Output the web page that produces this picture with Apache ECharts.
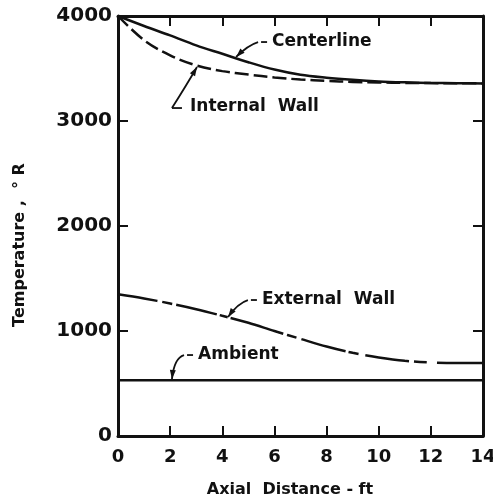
<!DOCTYPE html>
<html><head><meta charset="utf-8">
<script src="https://cdn.jsdelivr.net/npm/echarts@6/dist/echarts.min.js"></script>
<style>html,body{margin:0;padding:0;background:#fff}#c{width:493px;height:504px}</style>
</head><body><div id="c"></div>
<script>
// Data (axial distance ft, temperature °R)
var distance = [0, 1, 2, 3, 4, 5, 6, 7, 8, 9, 10, 11, 12, 13, 14];
var centerline = [4000, 3905, 3815, 3720, 3640, 3560, 3490, 3440, 3412, 3392, 3377, 3368, 3362, 3360, 3358];
var internalWall = [4000, 3770, 3625, 3530, 3475, 3442, 3415, 3395, 3382, 3372, 3367, 3363, 3361, 3360, 3358];
var externalWall = [1350, 1310, 1262, 1208, 1145, 1078, 1000, 925, 852, 792, 748, 716, 700, 695, 695];
var ambient = [530, 530, 530, 530, 530, 530, 530, 530, 530, 530, 530, 530, 530, 530, 530];
var xTicks = [0, 2, 4, 6, 8, 10, 12, 14];
var yTicks = [0, 1000, 2000, 3000, 4000];
var xTitle = 'Axial  Distance - ft';
var yTitle = 'Temperature ,  ° R';
// annotations: label, arrow tip (data), text anchor (data)
var notes = [
  {text: 'Centerline', tip: [4.53, 3610], at: [5.91, 3752]},
  {text: 'Internal  Wall', tip: [3.03, 3514], at: [2.76, 3133], corner: true},
  {text: 'External  Wall', tip: [4.22, 1133], at: [5.52, 1295]},
  {text: 'Ambient', tip: [2.07, 543], at: [3.07, 771]}
];

function pairs(ys){ return distance.map(function(x,i){return [x, ys[i]];}); }
var ink = '#111';
var font = 'DejaVu Sans';
var chart = echarts.init(document.getElementById('c'));
var lineBase = {type:'line', symbol:'none', smooth:0.35, xAxisIndex:0, yAxisIndex:0};
function axisCommon(pos){
  return {
    position:pos,
    axisLine:{show:true, onZero:false, lineStyle:{color:ink, width:3}},
    axisTick:{show:true, inside:true, length:10, lineStyle:{color:ink, width:2}},
    splitLine:{show:false}
  };
}
chart.setOption({
  animation:false,
  backgroundColor:'#fff',
  grid:{left:118, right:10, top:16, bottom:68, containLabel:false, outerBoundsMode:'none'},
  xAxis:[Object.assign(axisCommon('bottom'), {
    type:'value', min:0, max:14, interval:2,
    axisLabel:{color:ink, fontSize:18, fontFamily:font, fontWeight:'bold', margin:12,
      formatter:function(v){return xTicks.indexOf(v)>=0? String(v):'';}}
  }), Object.assign(axisCommon('top'), {
    type:'value', min:0, max:14, interval:2, axisLabel:{show:false}
  })],
  yAxis:[Object.assign(axisCommon('left'), {
    type:'value', min:0, max:4000, interval:1000,
    axisLabel:{color:ink, fontSize:20, fontFamily:font, fontWeight:'bold', margin:6,
      formatter:function(v){return yTicks.indexOf(v)>=0? String(v):'';}}
  }), Object.assign(axisCommon('right'), {
    type:'value', min:0, max:4000, interval:1000, axisLabel:{show:false}
  })],
  series:[
    Object.assign({}, lineBase, {name:'Centerline', data:pairs(centerline), lineStyle:{color:ink, width:2.5}}),
    Object.assign({}, lineBase, {name:'Internal Wall', data:pairs(internalWall), lineStyle:{color:ink, width:2.5, type:[14,5]}}),
    Object.assign({}, lineBase, {name:'External Wall', data:pairs(externalWall), lineStyle:{color:ink, width:2.5,
      type:[40,5,10,4,42,3,8,3,55,4,10,5,46,3,10,7,44,5,13,10,80]}}),
    Object.assign({}, lineBase, {name:'Ambient', data:pairs(ambient), smooth:false, lineStyle:{color:ink, width:2.5}})
  ]
});

function px(p){ return chart.convertToPixel({xAxisIndex:0, yAxisIndex:0}, p); }
var g = [];
g.push({type:'text', x:290, y:490, style:{text:xTitle, fill:ink, font:'bold 16px "DejaVu Sans"', textAlign:'center', textVerticalAlign:'middle'}});
g.push({type:'text', x:20, y:245, rotation:Math.PI/2, style:{text:yTitle, fill:ink, font:'bold 16px "DejaVu Sans"', textAlign:'center', textVerticalAlign:'middle'}});
notes.forEach(function(n){
  var tip = px(n.tip), at = px(n.at);
  g.push({type:'text', x:at[0], y:at[1], style:{text:n.text, fill:ink, font:'bold 17px "DejaVu Sans"', textVerticalAlign:'middle', textAlign:'left'}});
  var from, cp;
  if (n.corner) {
    from = [at[0]-18, at[1]+1];
    g.push({type:'polyline', shape:{points:[[at[0]-8, from[1]], from]}, style:{stroke:ink, lineWidth:1.8, fill:null}});
    cp = [from[0]+14, from[1]-22];
  } else {
    var d0 = [at[0]-5, at[1]], d1 = [at[0]-11, at[1]];
    g.push({type:'line', shape:{x1:d0[0], y1:d0[1], x2:d1[0], y2:d1[1]}, style:{stroke:ink, lineWidth:1.8}});
    from = [d1[0]-3, d1[1]];
    cp = [from[0]-10, from[1]+3];
  }
  g.push({type:'bezierCurve', shape:{x1:from[0], y1:from[1], x2:tip[0], y2:tip[1], cpx1:cp[0], cpy1:cp[1]}, style:{stroke:ink, lineWidth:1.8, fill:null}});
  var dx = tip[0]-cp[0], dy = tip[1]-cp[1], L = Math.sqrt(dx*dx+dy*dy); dx/=L; dy/=L;
  var len = 9, w = 3;
  var bx = tip[0]-dx*len, by = tip[1]-dy*len;
  g.push({type:'polygon', shape:{points:[[tip[0],tip[1]],[bx-dy*w, by+dx*w],[bx+dy*w, by-dx*w]]}, style:{fill:ink}});
});
chart.setOption({graphic:g});
</script></body></html>
